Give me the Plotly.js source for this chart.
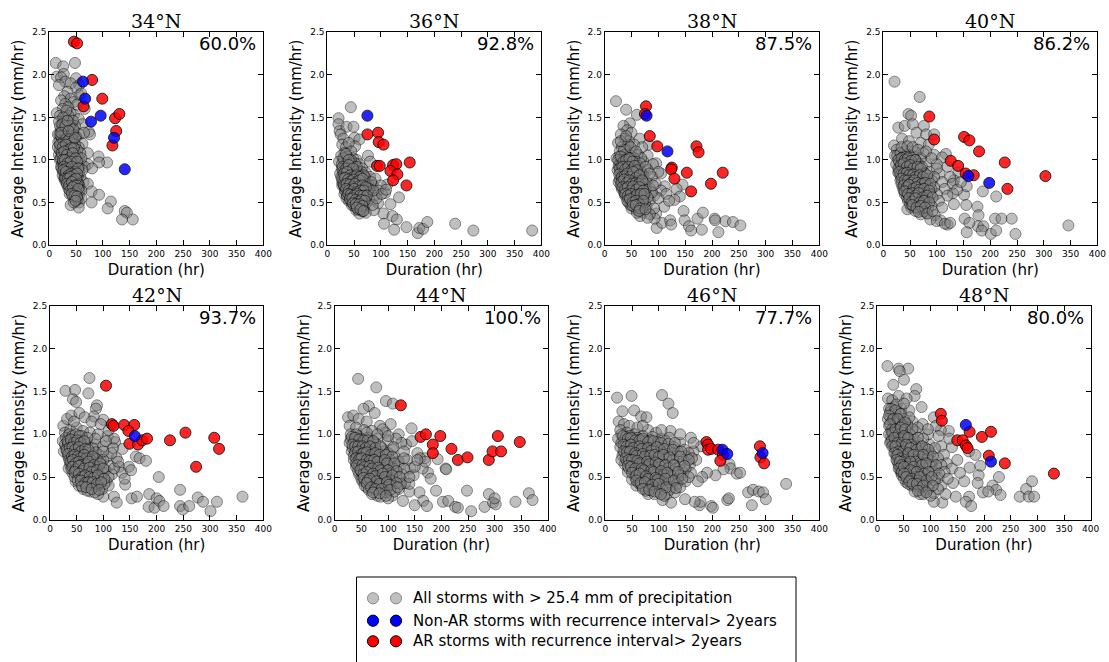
<!DOCTYPE html>
<html><head><meta charset="utf-8">
<script src="https://cdn.plot.ly/plotly-3.0.1.min.js"></script>
<style>html,body{margin:0;padding:0;background:#fff}</style>
</head><body><div id="chart" style="width:1109px;height:662px"></div>
<script>
// ---------- DATA ----------
const latitudes = ['34°N','36°N','38°N','40°N','42°N','44°N','46°N','48°N'];
const percents  = ['60.0%','92.8%','87.5%','86.2%','93.7%','100.%','77.7%','80.0%'];
const legendLabels = ['All storms with > 25.4 mm of precipitation',
  'Non-AR storms with recurrence interval> 2years',
  'AR storms with recurrence interval> 2years'];

// [duration (hr), average intensity (mm/hr)]
const all34 = [[12,2.14],[48,2.14],[26,2.10],[14,1.98],[27,2.01],[22,1.97],[30,1.92],[50,1.96],[56,1.88],[40,1.90],[18,1.88],[56,1.76],[50,1.85],[60,1.78],[34,1.80],[28,1.75],[22,1.70],[40,1.72],[45,1.68],[30,1.66],[52,1.65],[66,1.60],[35,1.62],[25,1.60],[14,1.55],[46,1.53],[20,1.52],[40,1.55],[30,1.50],[55,1.48],[62,1.42],[18,1.45],[36,1.44],[26,1.42],[48,1.40],[42,1.36],[22,1.36],[30,1.35],[56,1.30],[74,1.33],[76,1.30],[65,1.32],[16,1.30],[38,1.30],[28,1.28],[50,1.27],[45,1.24],[20,1.22],[33,1.22],[62,1.19],[17,1.21],[26,1.18],[40,1.16],[55,1.15],[30,1.12],[22,1.10],[48,1.10],[36,1.08],[72,1.08],[18,1.06],[28,1.04],[42,1.02],[55,1.02],[92,1.04],[108,0.97],[93,0.97],[20,1.00],[32,0.98],[24,0.96],[38,0.95],[46,0.94],[60,0.95],[72,0.95],[66,0.92],[55,0.92],[22,0.92],[30,0.90],[36,0.88],[42,0.86],[50,0.88],[26,0.86],[80,0.90],[32,0.82],[40,0.80],[48,0.82],[58,0.80],[28,0.78],[36,0.75],[44,0.74],[52,0.76],[64,0.74],[72,0.72],[34,0.70],[40,0.68],[48,0.68],[56,0.70],[44,0.63],[52,0.62],[60,0.64],[79,0.63],[48,0.57],[55,0.58],[93,0.59],[50,0.52],[56,0.50],[40,0.47],[55,0.44],[79,0.50],[115,0.51],[109,0.43],[141,0.40],[145,0.38],[136,0.30],[156,0.30],[60,0.55],[38,0.60],[30,0.75],
  [19,1.30],[24,1.25],[29,1.32],[34,1.28],[39,1.20],[44,1.30],[21,1.15],[27,1.12],[33,1.14],[37,1.18],[43,1.12],[19,1.12],[24,1.05],[30,1.06],[35,1.00],[40,1.05],[46,1.04],[52,1.05],[21,1.02],[26,0.98],[30,0.95],[34,0.92],[39,0.90],[44,0.98],[49,0.95],[23,0.90],[28,0.88],[33,0.85],[38,0.84],[44,0.80],[50,0.84],[56,0.86],[25,0.82],[30,0.84],[35,0.80],[40,0.76],[46,0.78],[53,0.80],[29,0.80],[33,0.76],[38,0.72],[43,0.70],[48,0.73],[54,0.72],[36,0.66],[42,0.66],[46,0.62],[50,0.65],[56,0.64],[44,0.57],[50,0.58],[53,0.54],[46,0.50],[24,1.35],[34,1.36],[40,1.42],[28,1.45],[36,1.52],[44,1.46],[32,1.58],[20,1.40],[26,1.50],[16,1.15],[38,1.40],[42,1.25],[48,1.18],[52,1.12],[58,1.08],[60,1.02],[62,0.88],
  [22,1.28],[27,1.22],[32,1.25],[37,1.24],[42,1.20],[20,1.18],[25,1.15],[31,1.18],[36,1.12],[41,1.14],[46,1.14],[23,1.08],[28,1.10],[33,1.06],[38,1.02],[44,1.08],[49,1.02],[25,1.00],[29,1.00],[34,0.96],[40,0.98],[46,0.90],[52,0.98],[27,0.92],[32,0.90],[37,0.86],[42,0.92],[48,0.86],[54,0.90],[26,0.88],[31,0.86],[36,0.82],[41,0.84],[46,0.82],[52,0.84],[30,0.78],[35,0.78],[39,0.80],[45,0.76],[50,0.78],[33,0.72],[37,0.70],[42,0.74],[47,0.70],[52,0.70],[39,0.64],[44,0.68],[49,0.62],[54,0.66],[42,0.60],[47,0.58],[52,0.57],[49,0.52],[24,1.42],[30,1.40],[34,1.46],[22,1.32],[45,1.36],[48,1.26],[36,1.34]];
const all36 = [[44,1.62],[21,1.49],[21,1.42],[23,1.34],[36,1.39],[49,1.39],[51,1.26],[60,1.24],[52,1.16],[76,1.05],[80,0.98],[134,0.56],[118,0.48],[95,0.49],[105,0.37],[122,0.34],[130,0.30],[106,0.25],[125,0.18],[148,0.21],[169,0.14],[172,0.20],[179,0.19],[187,0.27],[239,0.25],[273,0.17],[383,0.17],[87,0.41],[108,0.61],[112,0.71],[25,1.30],[30,1.25],[28,1.18],[35,1.15],[40,1.20],[45,1.10],[32,1.08],[26,1.05],[38,1.04],[48,1.02],[55,1.00],[30,0.98],[22,0.98],[42,0.96],[60,0.95],[35,0.94],[50,0.92],[27,0.90],[65,0.90],[44,0.88],[56,0.87],[32,0.86],[72,0.85],[38,0.83],[24,0.84],[48,0.82],[62,0.82],[80,0.80],[90,0.78],[30,0.80],[54,0.78],[42,0.77],[68,0.76],[35,0.75],[28,0.74],[60,0.73],[48,0.72],[76,0.72],[85,0.70],[100,0.70],[38,0.70],[55,0.68],[32,0.68],[66,0.67],[44,0.65],[80,0.65],[95,0.64],[36,0.62],[52,0.62],[60,0.60],[72,0.60],[42,0.58],[88,0.58],[48,0.56],[56,0.55],[66,0.55],[78,0.54],[40,0.52],[52,0.50],[62,0.50],[72,0.49],[46,0.47],[58,0.45],[68,0.44],[54,0.41],[64,0.40],[72,0.38],[60,0.37],[85,0.47],[92,0.55],[102,0.60],[32,0.60],[110,0.65],[36,0.55],[45,0.92],[28,0.70],[75,0.68],[58,0.66],[50,0.85],
  [27,0.95],[33,0.92],[37,0.97],[41,0.91],[46,0.95],[52,0.96],[29,0.86],[34,0.83],[40,0.86],[46,0.84],[52,0.86],[58,0.84],[64,0.86],[26,0.80],[31,0.77],[36,0.80],[41,0.74],[46,0.78],[51,0.75],[57,0.80],[63,0.78],[70,0.80],[30,0.72],[34,0.70],[40,0.68],[45,0.71],[50,0.70],[57,0.72],[63,0.70],[70,0.72],[33,0.64],[38,0.65],[42,0.62],[47,0.64],[53,0.66],[59,0.63],[65,0.62],[75,0.63],[37,0.58],[43,0.55],[48,0.60],[53,0.57],[58,0.58],[63,0.56],[70,0.57],[45,0.52],[50,0.54],[55,0.51],[60,0.53],[66,0.50],[50,0.46],[55,0.47],[62,0.45],[57,0.42],[66,0.40],[38,0.90],[44,1.00],[55,0.92],[68,0.82],[82,0.74],[78,0.66],[86,0.64],[30,1.02],[35,1.07],[40,1.00],
  [29,0.92],[35,0.90],[40,0.94],[48,0.90],[31,0.84],[37,0.86],[43,0.82],[49,0.80],[55,0.82],[61,0.80],[28,0.78],[33,0.79],[39,0.77],[44,0.75],[49,0.77],[54,0.74],[60,0.76],[66,0.78],[31,0.70],[36,0.72],[42,0.71],[47,0.68],[52,0.72],[59,0.69],[66,0.70],[72,0.68],[35,0.66],[40,0.64],[45,0.62],[50,0.66],[55,0.62],[62,0.64],[68,0.64],[39,0.60],[44,0.59],[50,0.58],[56,0.60],[61,0.58],[67,0.58],[74,0.58],[42,0.54],[47,0.55],[53,0.53],[58,0.51],[64,0.53],[70,0.52],[48,0.49],[53,0.48],[60,0.48],[66,0.46],[55,0.44],[62,0.42],[68,0.40]];
const all38 = [[21,1.69],[40,1.59],[60,1.53],[47,1.43],[65,1.25],[82,1.18],[105,0.84],[96,0.96],[112,0.69],[145,0.71],[134,0.66],[140,0.57],[130,0.53],[111,0.45],[147,0.40],[96,0.37],[97,0.20],[107,0.26],[122,0.29],[124,0.24],[149,0.29],[157,0.22],[161,0.17],[173,0.31],[183,0.38],[181,0.18],[205,0.31],[206,0.29],[212,0.15],[225,0.28],[239,0.27],[253,0.23],[93,0.31],[35,1.40],[42,1.35],[30,1.30],[50,1.32],[38,1.25],[25,1.20],[45,1.22],[55,1.18],[32,1.15],[70,1.15],[40,1.12],[28,1.10],[50,1.08],[62,1.06],[80,1.05],[22,1.02],[35,1.02],[45,1.00],[58,0.98],[72,0.98],[90,0.95],[28,0.96],[40,0.94],[52,0.92],[65,0.90],[80,0.88],[100,0.86],[24,0.88],[34,0.87],[46,0.85],[58,0.84],[72,0.82],[88,0.80],[30,0.80],[40,0.78],[52,0.77],[64,0.76],[78,0.74],[95,0.72],[26,0.74],[36,0.72],[46,0.70],[58,0.69],[70,0.68],[85,0.66],[105,0.64],[32,0.66],[42,0.64],[52,0.62],[62,0.61],[76,0.60],[92,0.58],[38,0.58],[48,0.56],[58,0.55],[70,0.54],[84,0.52],[100,0.55],[44,0.50],[54,0.48],[66,0.47],[78,0.45],[92,0.43],[50,0.43],[60,0.41],[72,0.38],[84,0.36],[66,0.34],[80,0.32],[115,0.60],[120,0.52],[60,0.92],[68,1.02],[44,1.18],[30,0.92],[55,0.72],[88,0.62],[75,0.50],
  [27,1.04],[32,1.00],[38,1.06],[42,1.03],[48,1.05],[55,1.02],[26,0.93],[31,0.95],[36,0.92],[42,0.90],[47,0.94],[54,0.90],[62,0.93],[29,0.85],[34,0.83],[39,0.86],[44,0.81],[50,0.83],[56,0.80],[62,0.84],[68,0.86],[28,0.77],[33,0.76],[38,0.74],[43,0.76],[48,0.73],[55,0.75],[61,0.72],[67,0.74],[74,0.72],[30,0.70],[35,0.68],[40,0.70],[45,0.65],[50,0.67],[56,0.64],[62,0.66],[68,0.63],[76,0.65],[36,0.62],[40,0.60],[46,0.60],[52,0.58],[57,0.60],[64,0.57],[72,0.57],[80,0.56],[44,0.54],[50,0.52],[56,0.51],[62,0.50],[70,0.50],[48,0.47],[56,0.45],[62,0.44],[70,0.43],[60,0.38],[36,1.12],[30,1.22],[40,1.28],[48,1.15],[58,1.10],[66,0.96],[76,0.92],[84,0.84],[90,0.70],
  [25,1.00],[30,1.04],[35,0.98],[40,1.00],[46,1.02],[52,0.98],[28,0.90],[33,0.92],[38,0.89],[44,0.92],[50,0.88],[56,0.93],[60,0.88],[27,0.83],[32,0.80],[37,0.81],[42,0.84],[47,0.80],[53,0.86],[58,0.79],[65,0.82],[31,0.74],[36,0.77],[41,0.73],[46,0.76],[51,0.72],[58,0.73],[64,0.72],[70,0.76],[33,0.68],[38,0.66],[43,0.68],[48,0.64],[53,0.69],[59,0.65],[65,0.68],[72,0.64],[38,0.60],[43,0.58],[49,0.60],[54,0.56],[60,0.59],[67,0.60],[74,0.60],[42,0.52],[47,0.54],[52,0.50],[58,0.52],[64,0.48],[72,0.52],[52,0.46],[58,0.47],[66,0.43],[64,0.40],[76,0.42]];
const all40 = [[21,1.92],[68,1.74],[47,1.54],[52,1.52],[76,1.40],[117,1.07],[140,0.85],[132,0.76],[130,0.61],[132,0.48],[151,0.59],[156,0.69],[155,0.47],[176,0.45],[186,0.63],[211,0.57],[178,0.35],[177,0.22],[187,0.22],[152,0.31],[161,0.26],[156,0.15],[184,0.17],[201,0.13],[211,0.17],[209,0.31],[221,0.31],[240,0.31],[247,0.13],[346,0.23],[107,0.29],[120,0.24],[20,1.17],[28,1.38],[40,1.40],[55,1.42],[62,1.32],[80,1.30],[95,1.30],[35,1.25],[48,1.22],[70,1.20],[85,1.18],[25,1.12],[40,1.10],[58,1.10],[75,1.08],[95,1.06],[110,1.03],[30,1.02],[45,1.00],[62,0.98],[80,0.96],[100,0.95],[120,0.92],[24,0.95],[36,0.92],[50,0.90],[68,0.88],[86,0.86],[105,0.84],[125,0.80],[28,0.85],[42,0.82],[56,0.80],[72,0.78],[90,0.76],[110,0.74],[32,0.76],[46,0.74],[60,0.72],[76,0.70],[95,0.68],[115,0.66],[36,0.68],[50,0.66],[64,0.64],[80,0.62],[100,0.60],[120,0.58],[40,0.60],[54,0.58],[68,0.56],[84,0.54],[104,0.52],[46,0.52],[60,0.50],[74,0.48],[90,0.46],[110,0.44],[52,0.44],[66,0.42],[80,0.38],[96,0.35],[70,0.36],[88,0.30],[100,0.28],[115,0.25],[125,0.26],[45,0.42],[58,1.00],[70,1.02],[30,0.90],[22,1.05],[40,0.75],[65,0.80],[130,0.72],[138,0.65],[145,0.74],
  [26,1.05],[32,1.08],[38,1.04],[44,1.06],[50,1.05],[56,1.04],[30,0.97],[36,0.98],[42,0.95],[48,0.97],[54,0.94],[60,0.92],[66,0.95],[72,0.92],[28,0.90],[34,0.88],[40,0.87],[46,0.86],[52,0.85],[58,0.86],[64,0.84],[70,0.83],[78,0.84],[32,0.82],[36,0.80],[44,0.78],[50,0.79],[54,0.76],[62,0.77],[68,0.74],[74,0.75],[84,0.78],[34,0.72],[40,0.70],[46,0.69],[54,0.70],[58,0.67],[66,0.69],[72,0.66],[82,0.68],[90,0.66],[38,0.64],[44,0.62],[50,0.62],[58,0.62],[62,0.59],[72,0.60],[78,0.58],[88,0.60],[44,0.56],[50,0.54],[56,0.53],[64,0.52],[72,0.53],[80,0.50],[50,0.48],[56,0.46],[66,0.46],[74,0.43],[84,0.44],[60,0.40],[76,0.40],[34,1.15],[45,1.16],[55,1.15],[65,1.12],[80,1.10],[90,1.02],[100,0.90],[95,0.80],
  [28,1.00],[34,1.02],[40,1.00],[46,1.02],[52,0.99],[60,1.00],[33,0.94],[38,0.96],[44,0.92],[50,0.94],[56,0.90],[64,0.92],[70,0.90],[30,0.86],[38,0.84],[44,0.85],[48,0.82],[56,0.83],[60,0.80],[68,0.82],[74,0.80],[82,0.82],[34,0.78],[40,0.76],[46,0.76],[52,0.73],[58,0.76],[64,0.73],[72,0.72],[78,0.73],[88,0.72],[38,0.70],[44,0.68],[48,0.71],[56,0.66],[62,0.68],[68,0.65],[76,0.66],[86,0.64],[40,0.63],[46,0.60],[54,0.61],[60,0.58],[66,0.61],[74,0.56],[82,0.58],[92,0.56],[48,0.55],[54,0.51],[60,0.55],[68,0.50],[76,0.52],[86,0.50],[54,0.47],[62,0.44],[70,0.46],[78,0.44],[66,0.39],[82,0.37],[92,0.40]];
const all42 = [[29,1.51],[47,1.52],[74,1.66],[72,1.48],[88,1.34],[86,1.30],[43,1.41],[49,1.38],[100,1.17],[82,1.21],[122,0.91],[136,0.83],[161,0.74],[168,0.72],[180,0.69],[204,0.50],[141,0.41],[120,0.27],[125,0.20],[153,0.25],[163,0.27],[186,0.30],[185,0.15],[196,0.14],[200,0.25],[205,0.22],[213,0.16],[244,0.35],[244,0.16],[249,0.12],[261,0.16],[277,0.26],[287,0.21],[301,0.10],[313,0.21],[361,0.27],[100,0.27],[25,1.10],[32,1.18],[40,1.22],[55,1.25],[65,1.20],[78,1.15],[95,1.12],[28,1.02],[38,1.05],[50,1.08],[62,1.04],[75,1.02],[90,1.00],[108,0.98],[24,0.92],[34,0.95],[45,0.94],[58,0.92],[70,0.90],[85,0.88],[100,0.86],[118,0.84],[30,0.85],[40,0.82],[52,0.82],[64,0.80],[78,0.78],[92,0.76],[108,0.74],[125,0.72],[34,0.74],[44,0.72],[56,0.70],[68,0.68],[82,0.67],[96,0.65],[112,0.63],[130,0.62],[38,0.64],[48,0.62],[60,0.60],[72,0.58],[86,0.57],[100,0.55],[116,0.53],[42,0.55],[52,0.52],[64,0.50],[76,0.48],[90,0.47],[106,0.45],[48,0.45],[58,0.42],[70,0.40],[84,0.38],[98,0.36],[62,0.36],[76,0.33],[90,0.30],[110,0.40],[135,0.55],[140,0.48],[148,0.62],[152,0.58],[120,0.95],[110,1.05],[45,1.15],[35,0.60],[26,0.80],[60,0.98],[80,0.84],[95,0.70],
  [30,0.96],[36,1.00],[42,0.98],[48,1.00],[55,0.98],[28,0.88],[34,0.89],[40,0.90],[46,0.87],[52,0.89],[60,0.86],[66,0.88],[32,0.80],[38,0.78],[44,0.79],[48,0.76],[56,0.77],[60,0.74],[70,0.78],[74,0.74],[86,0.79],[36,0.70],[40,0.68],[46,0.67],[50,0.70],[60,0.66],[64,0.70],[76,0.70],[88,0.71],[100,0.70],[40,0.60],[44,0.64],[52,0.58],[56,0.62],[66,0.62],[70,0.56],[80,0.60],[92,0.62],[104,0.58],[46,0.50],[50,0.56],[58,0.50],[62,0.54],[70,0.46],[80,0.52],[84,0.46],[96,0.50],[110,0.50],[54,0.40],[64,0.44],[76,0.42],[90,0.40],[102,0.42],[70,0.34],[84,0.32],[120,0.60],[128,0.68],[115,0.78],[100,0.80],[105,0.92],[85,0.95],[70,0.96],
  [33,0.92],[39,0.94],[45,0.90],[51,0.93],[57,0.90],[64,0.92],[31,0.82],[37,0.84],[42,0.85],[47,0.82],[54,0.85],[58,0.80],[66,0.83],[72,0.82],[34,0.77],[41,0.74],[46,0.76],[52,0.74],[57,0.72],[64,0.76],[68,0.72],[80,0.74],[38,0.68],[43,0.70],[48,0.66],[54,0.68],[58,0.64],[68,0.65],[72,0.68],[82,0.64],[94,0.66],[42,0.62],[48,0.59],[54,0.63],[60,0.57],[64,0.60],[74,0.61],[78,0.56],[88,0.58],[100,0.60],[46,0.56],[54,0.54],[60,0.50],[66,0.52],[74,0.50],[82,0.49],[90,0.52],[102,0.48],[52,0.46],[58,0.46],[66,0.43],[72,0.44],[80,0.44],[88,0.42],[96,0.44],[60,0.39],[68,0.38],[78,0.36],[92,0.35]];
const all44 = [[44,1.65],[78,1.55],[96,1.39],[109,1.36],[64,1.33],[75,1.25],[54,1.30],[144,1.07],[134,0.88],[169,0.72],[193,0.71],[175,0.55],[180,0.48],[208,0.60],[209,0.59],[190,0.34],[140,0.33],[159,0.32],[166,0.22],[173,0.16],[150,0.17],[203,0.21],[213,0.22],[226,0.15],[231,0.14],[248,0.34],[256,0.10],[281,0.15],[289,0.30],[297,0.20],[302,0.18],[300,0.25],[339,0.21],[364,0.31],[371,0.23],[128,0.22],[25,1.20],[35,1.22],[45,1.18],[60,1.15],[85,1.10],[105,1.12],[28,1.10],[40,1.08],[55,1.05],[70,1.04],[95,1.02],[120,1.00],[30,1.00],[45,0.98],[62,0.96],[80,0.95],[100,0.93],[125,0.90],[145,0.92],[28,0.90],[40,0.88],[54,0.86],[70,0.85],[88,0.84],[108,0.82],[130,0.80],[155,0.78],[32,0.80],[46,0.78],[60,0.76],[76,0.75],[94,0.74],[114,0.72],[136,0.70],[160,0.72],[36,0.70],[50,0.68],[66,0.66],[82,0.65],[100,0.63],[120,0.62],[142,0.60],[40,0.62],[54,0.60],[70,0.58],[88,0.56],[106,0.55],[126,0.53],[148,0.52],[46,0.53],[60,0.50],[76,0.48],[94,0.46],[112,0.45],[132,0.43],[52,0.45],[66,0.42],[82,0.40],[100,0.38],[120,0.36],[60,0.38],[74,0.34],[90,0.31],[108,0.28],[80,0.28],[100,0.25],[165,0.60],[170,0.68],[140,0.42],[115,0.95],[90,1.06],[50,0.95],[35,0.95],[65,0.72],
  [30,0.94],[36,0.92],[42,0.94],[50,0.90],[58,0.92],[66,0.90],[76,0.90],[34,0.84],[40,0.82],[48,0.83],[56,0.80],[62,0.82],[72,0.80],[80,0.80],[92,0.80],[100,0.78],[36,0.75],[42,0.74],[52,0.73],[56,0.70],[64,0.70],[70,0.72],[86,0.72],[90,0.68],[104,0.70],[120,0.68],[40,0.66],[46,0.64],[58,0.64],[62,0.60],[74,0.62],[78,0.58],[92,0.60],[96,0.56],[110,0.60],[130,0.60],[44,0.57],[50,0.56],[64,0.55],[68,0.52],[80,0.52],[84,0.48],[98,0.50],[104,0.46],[116,0.50],[140,0.50],[50,0.48],[56,0.46],[70,0.45],[74,0.40],[88,0.43],[92,0.38],[108,0.40],[124,0.42],[56,0.40],[64,0.35],[80,0.35],[96,0.32],[112,0.33],[70,0.30],[86,0.27],[150,0.62],[155,0.70],[130,0.72],[110,0.85],[100,0.98],[80,1.00],[60,1.02],[40,1.00],
  [32,0.97],[38,0.96],[46,0.94],[54,0.93],[62,0.93],[72,0.92],[33,0.88],[38,0.86],[44,0.86],[52,0.86],[58,0.84],[66,0.86],[76,0.84],[86,0.86],[38,0.79],[44,0.80],[50,0.77],[54,0.78],[60,0.79],[68,0.76],[76,0.78],[84,0.76],[96,0.76],[108,0.74],[40,0.72],[46,0.71],[50,0.72],[60,0.70],[66,0.69],[74,0.70],[80,0.68],[94,0.70],[98,0.66],[112,0.66],[42,0.64],[52,0.64],[56,0.62],[66,0.63],[70,0.60],[82,0.61],[86,0.58],[100,0.58],[116,0.57],[48,0.58],[54,0.53],[60,0.56],[72,0.54],[76,0.51],[90,0.54],[94,0.50],[108,0.52],[122,0.50],[54,0.49],[62,0.46],[66,0.48],[78,0.45],[84,0.42],[98,0.44],[102,0.41],[116,0.43],[60,0.43],[68,0.38],[76,0.36],[88,0.36],[104,0.35],[118,0.38],[72,0.32],[84,0.31],[96,0.28]];
const all46 = [[22,1.43],[49,1.45],[106,1.46],[118,1.36],[126,1.25],[32,1.27],[54,1.28],[67,1.21],[77,1.20],[122,1.04],[160,0.96],[179,0.86],[232,0.65],[234,0.60],[221,0.59],[206,0.52],[190,0.55],[181,0.50],[173,0.45],[246,0.54],[252,0.55],[267,0.32],[276,0.35],[287,0.33],[295,0.32],[300,0.24],[274,0.17],[338,0.42],[228,0.23],[231,0.25],[198,0.16],[201,0.14],[176,0.17],[178,0.21],[167,0.21],[149,0.24],[123,0.20],[107,0.23],[25,1.15],[35,1.12],[45,1.10],[60,1.08],[80,1.05],[95,1.02],[28,1.05],[40,1.02],[55,1.00],[70,0.98],[88,0.97],[105,0.95],[120,0.96],[140,0.90],[24,0.95],[34,0.93],[48,0.92],[62,0.90],[78,0.88],[94,0.87],[110,0.86],[128,0.85],[148,0.82],[165,0.80],[28,0.85],[40,0.83],[54,0.82],[68,0.80],[84,0.79],[100,0.78],[116,0.77],[134,0.75],[152,0.74],[32,0.75],[44,0.73],[58,0.72],[74,0.70],[90,0.69],[106,0.68],[122,0.66],[140,0.65],[158,0.64],[36,0.65],[50,0.63],[64,0.62],[80,0.60],[96,0.59],[112,0.57],[128,0.56],[146,0.55],[42,0.56],[56,0.54],[70,0.52],[86,0.51],[102,0.50],[118,0.48],[136,0.47],[50,0.47],[64,0.45],[78,0.43],[94,0.42],[110,0.40],[126,0.38],[58,0.40],[72,0.37],[86,0.34],[100,0.32],[115,0.30],[80,0.30],[130,0.32],[150,0.45],[160,0.55],[170,0.70],[165,0.90],[140,1.00],[105,1.05],[70,1.10],[30,0.70],[48,0.82],[120,0.75],
  [30,1.00],[38,0.97],[46,0.98],[52,0.95],[60,0.96],[66,0.94],[74,0.92],[84,0.93],[98,0.91],[112,0.92],[30,0.90],[38,0.88],[44,0.86],[56,0.87],[60,0.84],[72,0.85],[76,0.82],[90,0.83],[104,0.82],[120,0.82],[136,0.80],[156,0.78],[36,0.79],[42,0.77],[50,0.76],[62,0.76],[66,0.73],[80,0.74],[86,0.72],[96,0.73],[114,0.72],[126,0.70],[146,0.70],[162,0.72],[40,0.69],[46,0.67],[54,0.67],[70,0.66],[76,0.63],[88,0.64],[92,0.61],[104,0.62],[118,0.61],[132,0.60],[150,0.60],[44,0.60],[52,0.58],[60,0.57],[74,0.57],[82,0.55],[96,0.54],[100,0.51],[110,0.53],[124,0.51],[140,0.52],[156,0.50],[56,0.50],[62,0.49],[70,0.47],[84,0.47],[90,0.45],[104,0.45],[120,0.44],[134,0.42],[62,0.43],[68,0.40],[80,0.39],[96,0.37],[106,0.36],[120,0.35],[140,0.38],[76,0.34],[92,0.30],[110,0.28],
  [33,0.98],[42,0.95],[48,0.96],[56,0.93],[64,0.93],[70,0.95],[80,0.91],[90,0.92],[104,0.90],[118,0.89],[130,0.90],[34,0.88],[40,0.86],[48,0.88],[52,0.84],[64,0.86],[68,0.83],[80,0.84],[86,0.81],[96,0.85],[110,0.83],[126,0.82],[142,0.80],[34,0.80],[40,0.79],[46,0.80],[56,0.78],[58,0.75],[70,0.77],[74,0.74],[84,0.75],[92,0.76],[100,0.74],[108,0.76],[120,0.73],[140,0.74],[156,0.70],[38,0.72],[44,0.70],[50,0.70],[60,0.69],[64,0.66],[78,0.68],[82,0.65],[94,0.67],[100,0.65],[112,0.64],[128,0.64],[148,0.63],[42,0.63],[48,0.62],[56,0.60],[68,0.60],[72,0.58],[86,0.58],[90,0.56],[104,0.57],[116,0.55],[136,0.56],[50,0.55],[58,0.52],[64,0.54],[76,0.51],[80,0.48],[94,0.49],[98,0.47],[112,0.48],[128,0.46],[144,0.48],[58,0.46],[66,0.43],[74,0.44],[88,0.41],[100,0.42],[114,0.38],[132,0.37],[70,0.36],[82,0.35],[92,0.33],[104,0.30]];
const all48 = [[19,1.80],[40,1.77],[58,1.77],[42,1.74],[30,1.58],[50,1.64],[73,1.53],[70,1.45],[83,1.32],[106,1.20],[134,1.04],[119,1.05],[172,0.80],[184,0.76],[193,0.63],[173,0.61],[190,0.52],[163,0.45],[188,0.43],[142,0.43],[228,0.50],[216,0.40],[223,0.35],[231,0.29],[198,0.32],[208,0.33],[267,0.27],[279,0.36],[284,0.27],[290,0.45],[294,0.27],[172,0.27],[166,0.21],[176,0.16],[122,0.20],[106,0.21],[147,0.27],[20,1.42],[28,1.40],[40,1.45],[55,1.42],[22,1.30],[32,1.32],[45,1.30],[60,1.28],[25,1.20],[36,1.22],[50,1.18],[66,1.15],[85,1.12],[22,1.10],[30,1.08],[42,1.06],[56,1.05],[72,1.03],[95,1.00],[115,0.98],[26,0.98],[36,0.96],[48,0.94],[62,0.92],[78,0.90],[98,0.88],[120,0.86],[140,0.85],[30,0.88],[40,0.86],[52,0.84],[66,0.82],[82,0.80],[100,0.78],[125,0.76],[34,0.78],[44,0.76],[56,0.74],[70,0.72],[86,0.70],[104,0.68],[130,0.66],[38,0.68],[48,0.66],[60,0.64],[74,0.62],[90,0.60],[110,0.58],[140,0.60],[42,0.60],[52,0.58],[64,0.55],[78,0.53],[94,0.51],[115,0.49],[46,0.52],[56,0.49],[68,0.46],[82,0.44],[98,0.42],[120,0.40],[54,0.44],[64,0.40],[76,0.37],[90,0.34],[106,0.31],[128,0.30],[80,0.30],[150,0.70],[155,0.55],[135,0.95],[110,1.10],[45,1.00],[24,0.90],[60,0.80],[95,0.75],
  [24,1.26],[30,1.24],[40,1.26],[28,1.16],[34,1.14],[42,1.15],[56,1.12],[26,1.05],[32,1.02],[38,1.04],[48,1.02],[62,1.00],[28,0.94],[34,0.92],[42,0.94],[54,0.96],[70,0.94],[86,0.95],[32,0.84],[36,0.82],[46,0.84],[58,0.86],[72,0.86],[90,0.84],[108,0.84],[36,0.74],[40,0.72],[50,0.74],[60,0.72],[64,0.76],[78,0.76],[94,0.72],[114,0.72],[40,0.64],[44,0.62],[54,0.68],[66,0.66],[80,0.66],[98,0.64],[120,0.64],[44,0.56],[48,0.58],[58,0.58],[70,0.58],[84,0.56],[102,0.56],[126,0.56],[50,0.48],[60,0.52],[72,0.50],[88,0.48],[108,0.46],[132,0.48],[58,0.42],[70,0.40],[82,0.38],[96,0.36],[114,0.36],[70,0.33],[86,0.30],[100,0.28],[20,1.18],[22,1.00],[36,1.35],[50,1.36],[60,1.20],[76,1.08],[95,1.06],
  [26,1.30],[34,1.28],[44,1.24],[22,1.22],[30,1.18],[38,1.18],[46,1.10],[52,1.14],[24,1.12],[28,1.02],[34,1.06],[40,1.00],[44,1.08],[52,1.06],[66,1.06],[26,0.92],[32,0.96],[38,0.90],[46,0.90],[50,0.98],[58,0.96],[64,0.88],[76,0.96],[28,0.86],[34,0.86],[40,0.80],[48,0.80],[54,0.88],[62,0.84],[74,0.82],[84,0.86],[96,0.82],[32,0.78],[38,0.76],[44,0.72],[52,0.70],[58,0.78],[68,0.76],[72,0.68],[86,0.76],[104,0.74],[36,0.70],[42,0.68],[46,0.64],[56,0.62],[62,0.68],[68,0.62],[84,0.64],[92,0.66],[110,0.64],[40,0.60],[46,0.56],[50,0.62],[56,0.54],[62,0.58],[74,0.56],[88,0.54],[96,0.56],[116,0.54],[50,0.54],[54,0.50],[64,0.48],[76,0.46],[80,0.50],[92,0.46],[102,0.50],[60,0.45],[66,0.42],[74,0.42],[86,0.40],[104,0.40],[76,0.34],[92,0.32]];

const ar34 = [[46,2.39],[52,2.37],[80,1.94],[64,1.63],[99,1.72],[123,1.49],[131,1.54],[125,1.34],[118,1.17]];
const ar36 = [[75,1.30],[95,1.32],[96,1.21],[105,1.18],[93,0.93],[98,0.93],[123,0.94],[129,0.95],[118,0.87],[131,0.83],[123,0.76],[154,0.97],[148,0.70]];
const ar38 = [[77,1.63],[75,1.54],[84,1.28],[98,1.16],[171,1.16],[175,1.09],[125,0.91],[124,0.89],[130,0.78],[153,0.85],[220,0.85],[198,0.72],[161,0.63]];
const ar40 = [[86,1.51],[95,1.24],[151,1.27],[161,1.23],[179,1.10],[227,0.97],[126,0.99],[140,0.93],[154,0.84],[169,0.82],[232,0.66],[303,0.81]];
const ar42 = [[105,1.57],[116,1.12],[119,1.10],[139,1.11],[158,1.11],[147,1.04],[149,0.89],[165,0.88],[173,0.93],[182,0.95],[225,0.93],[254,1.02],[308,0.96],[317,0.83],[274,0.62]];
const ar44 = [[124,1.34],[161,0.97],[171,1.00],[198,0.98],[184,0.88],[184,0.78],[219,0.83],[231,0.70],[249,0.73],[289,0.70],[296,0.80],[306,0.98],[312,0.80],[347,0.91]];
const ar46 = [[189,0.91],[192,0.88],[192,0.82],[198,0.83],[211,0.82],[220,0.76],[215,0.69],[289,0.86],[290,0.73],[297,0.66]];
const ar48 = [[119,1.24],[121,1.16],[173,1.03],[150,0.93],[160,0.93],[166,0.87],[169,0.84],[196,0.97],[213,1.03],[209,0.75],[239,0.66],[331,0.54]];

const nonAr34 = [[63,1.92],[67,1.72],[78,1.45],[96,1.52],[121,1.26],[141,0.89]];
const nonAr36 = [[75,1.52]];
const nonAr38 = [[78,1.52],[117,1.10]];
const nonAr40 = [[159,0.81],[198,0.73]];
const nonAr42 = [[159,0.98]];
const nonAr44 = [];
const nonAr46 = [[219,0.82],[228,0.77],[294,0.78]];
const nonAr48 = [[166,1.11],[213,0.68]];

const xTicks = [0,50,100,150,200,250,300,350,400];
const yTicks = [0,0.5,1,1.5,2,2.5];

// ---------- LAYOUT / DRAW ----------
const W = 1109, H = 662;
const panels = [
  {all: all34, ar: ar34, non: nonAr34},
  {all: all36, ar: ar36, non: nonAr36},
  {all: all38, ar: ar38, non: nonAr38},
  {all: all40, ar: ar40, non: nonAr40},
  {all: all42, ar: ar42, non: nonAr42},
  {all: all44, ar: ar44, non: nonAr44},
  {all: all46, ar: ar46, non: nonAr46},
  {all: all48, ar: ar48, non: nonAr48}
];
const colPx = [[49.3,263.3],[327.3,541.3],[604.7,819.3],[883.3,1097.3],
               [50,263.3],[334.7,548],[605.3,819.3],[877.3,1090.7]];
const rowPx = [[32.3,245],[306.3,519.7]];
const FONT = 'DejaVu Sans, sans-serif';

const traces = [];
const layout = {
  width: W, height: H, margin: {l:0, r:0, t:0, b:0}, autosize: false,
  paper_bgcolor: '#fff', plot_bgcolor: '#fff', showlegend: false, hovermode: false,
  font: {family: FONT, color: '#000'},
  annotations: [], shapes: []
};

panels.forEach((p, k) => {
  const s = k === 0 ? '' : String(k + 1);
  const xa = 'x' + s, ya = 'y' + s;
  const r = k < 4 ? 0 : 1;
  const [px0, px1] = colPx[k];
  const [py0, py1] = rowPx[r];
  const xd = [px0 / W, px1 / W];
  const yd = [(H - py1) / H, (H - py0) / H];
  const common = {
    showline: true, linecolor: '#000', linewidth: 1, mirror: 'allticks',
    ticks: 'inside', ticklen: 5, tickwidth: 1, tickcolor: '#000',
    showgrid: false, zeroline: false, fixedrange: true,
    tickfont: {family: FONT, size: 9, color: '#000'}
  };
  layout['xaxis' + s] = Object.assign({}, common, {
    domain: xd, anchor: ya, range: [0, 400], tickvals: xTicks,
    ticktext: xTicks.map(String),
    title: {text: 'Duration (hr)', font: {family: FONT, size: 15, color: '#000'}, standoff: 6}
  });
  layout['yaxis' + s] = Object.assign({}, common, {
    domain: yd, anchor: xa, range: [0, 2.5], tickvals: yTicks,
    ticktext: yTicks.map(v => v.toFixed(1)),
    title: {text: 'Average Intensity (mm/hr)', font: {family: FONT, size: 15, color: '#000'}, standoff: 4}
  });
  traces.push({
    type: 'scatter', mode: 'markers', xaxis: xa, yaxis: ya,
    x: p.all.map(d => d[0]), y: p.all.map(d => d[1]),
    marker: {size: 11, color: 'rgb(128,128,128)', opacity: 0.5, line: {color: '#000', width: 1}}
  });
  traces.push({
    type: 'scatter', mode: 'markers', xaxis: xa, yaxis: ya,
    x: p.ar.map(d => d[0]), y: p.ar.map(d => d[1]),
    marker: {size: 11, color: '#ff0000', opacity: 0.85, line: {color: '#000', width: 1}}
  });
  traces.push({
    type: 'scatter', mode: 'markers', xaxis: xa, yaxis: ya,
    x: p.non.map(d => d[0]), y: p.non.map(d => d[1]),
    marker: {size: 11, color: '#0000ff', opacity: 0.85, line: {color: '#000', width: 1}}
  });
  // panel title
  layout.annotations.push({
    xref: 'paper', yref: 'paper', x: (xd[0] + xd[1]) / 2, y: (H - (py0 - 11)) / H,
    xanchor: 'center', yanchor: 'middle', showarrow: false, text: latitudes[k],
    font: {family: 'DejaVu Serif, serif', size: 19, color: '#000'}
  });
  // percentage
  layout.annotations.push({
    xref: 'paper', yref: 'paper', x: (px1 - 5) / W, y: (H - py0 + 1) / H,
    xanchor: 'right', yanchor: 'top', showarrow: false, text: percents[k],
    font: {family: FONT, size: 18, color: '#000'}
  });
});

// legend box (drawn as layout decoration)
const lgX0 = 356.5, lgX1 = 796, lgTop = 577;
layout.shapes.push({type: 'rect', xref: 'paper', yref: 'paper',
  x0: lgX0 / W, x1: lgX1 / W, y0: -0.05, y1: (H - lgTop) / H,
  line: {color: '#000', width: 1}, fillcolor: 'rgba(0,0,0,0)'});
const lgRows = [598.3, 620.7, 641.3];
const lgFill = ['#c0c0c0', '#0000ff', '#ff0000'];
const lgEdge = ['#8a8a8a', '#000', '#000'];
const rad = 5.6;
lgRows.forEach((cy, i) => {
  [373, 396].forEach(cx => {
    layout.shapes.push({type: 'circle', xref: 'paper', yref: 'paper',
      x0: (cx - rad) / W, x1: (cx + rad) / W, y0: (H - cy - rad) / H, y1: (H - cy + rad) / H,
      fillcolor: lgFill[i], line: {color: lgEdge[i], width: 1}});
  });
  layout.annotations.push({xref: 'paper', yref: 'paper', x: 411 / W, y: (H - cy) / H,
    xanchor: 'left', yanchor: 'middle', showarrow: false, text: legendLabels[i],
    font: {family: FONT, size: 15, color: '#000'}});
});

Plotly.newPlot('chart', traces, layout, {displayModeBar: false, staticPlot: true});
</script>
</body></html>
